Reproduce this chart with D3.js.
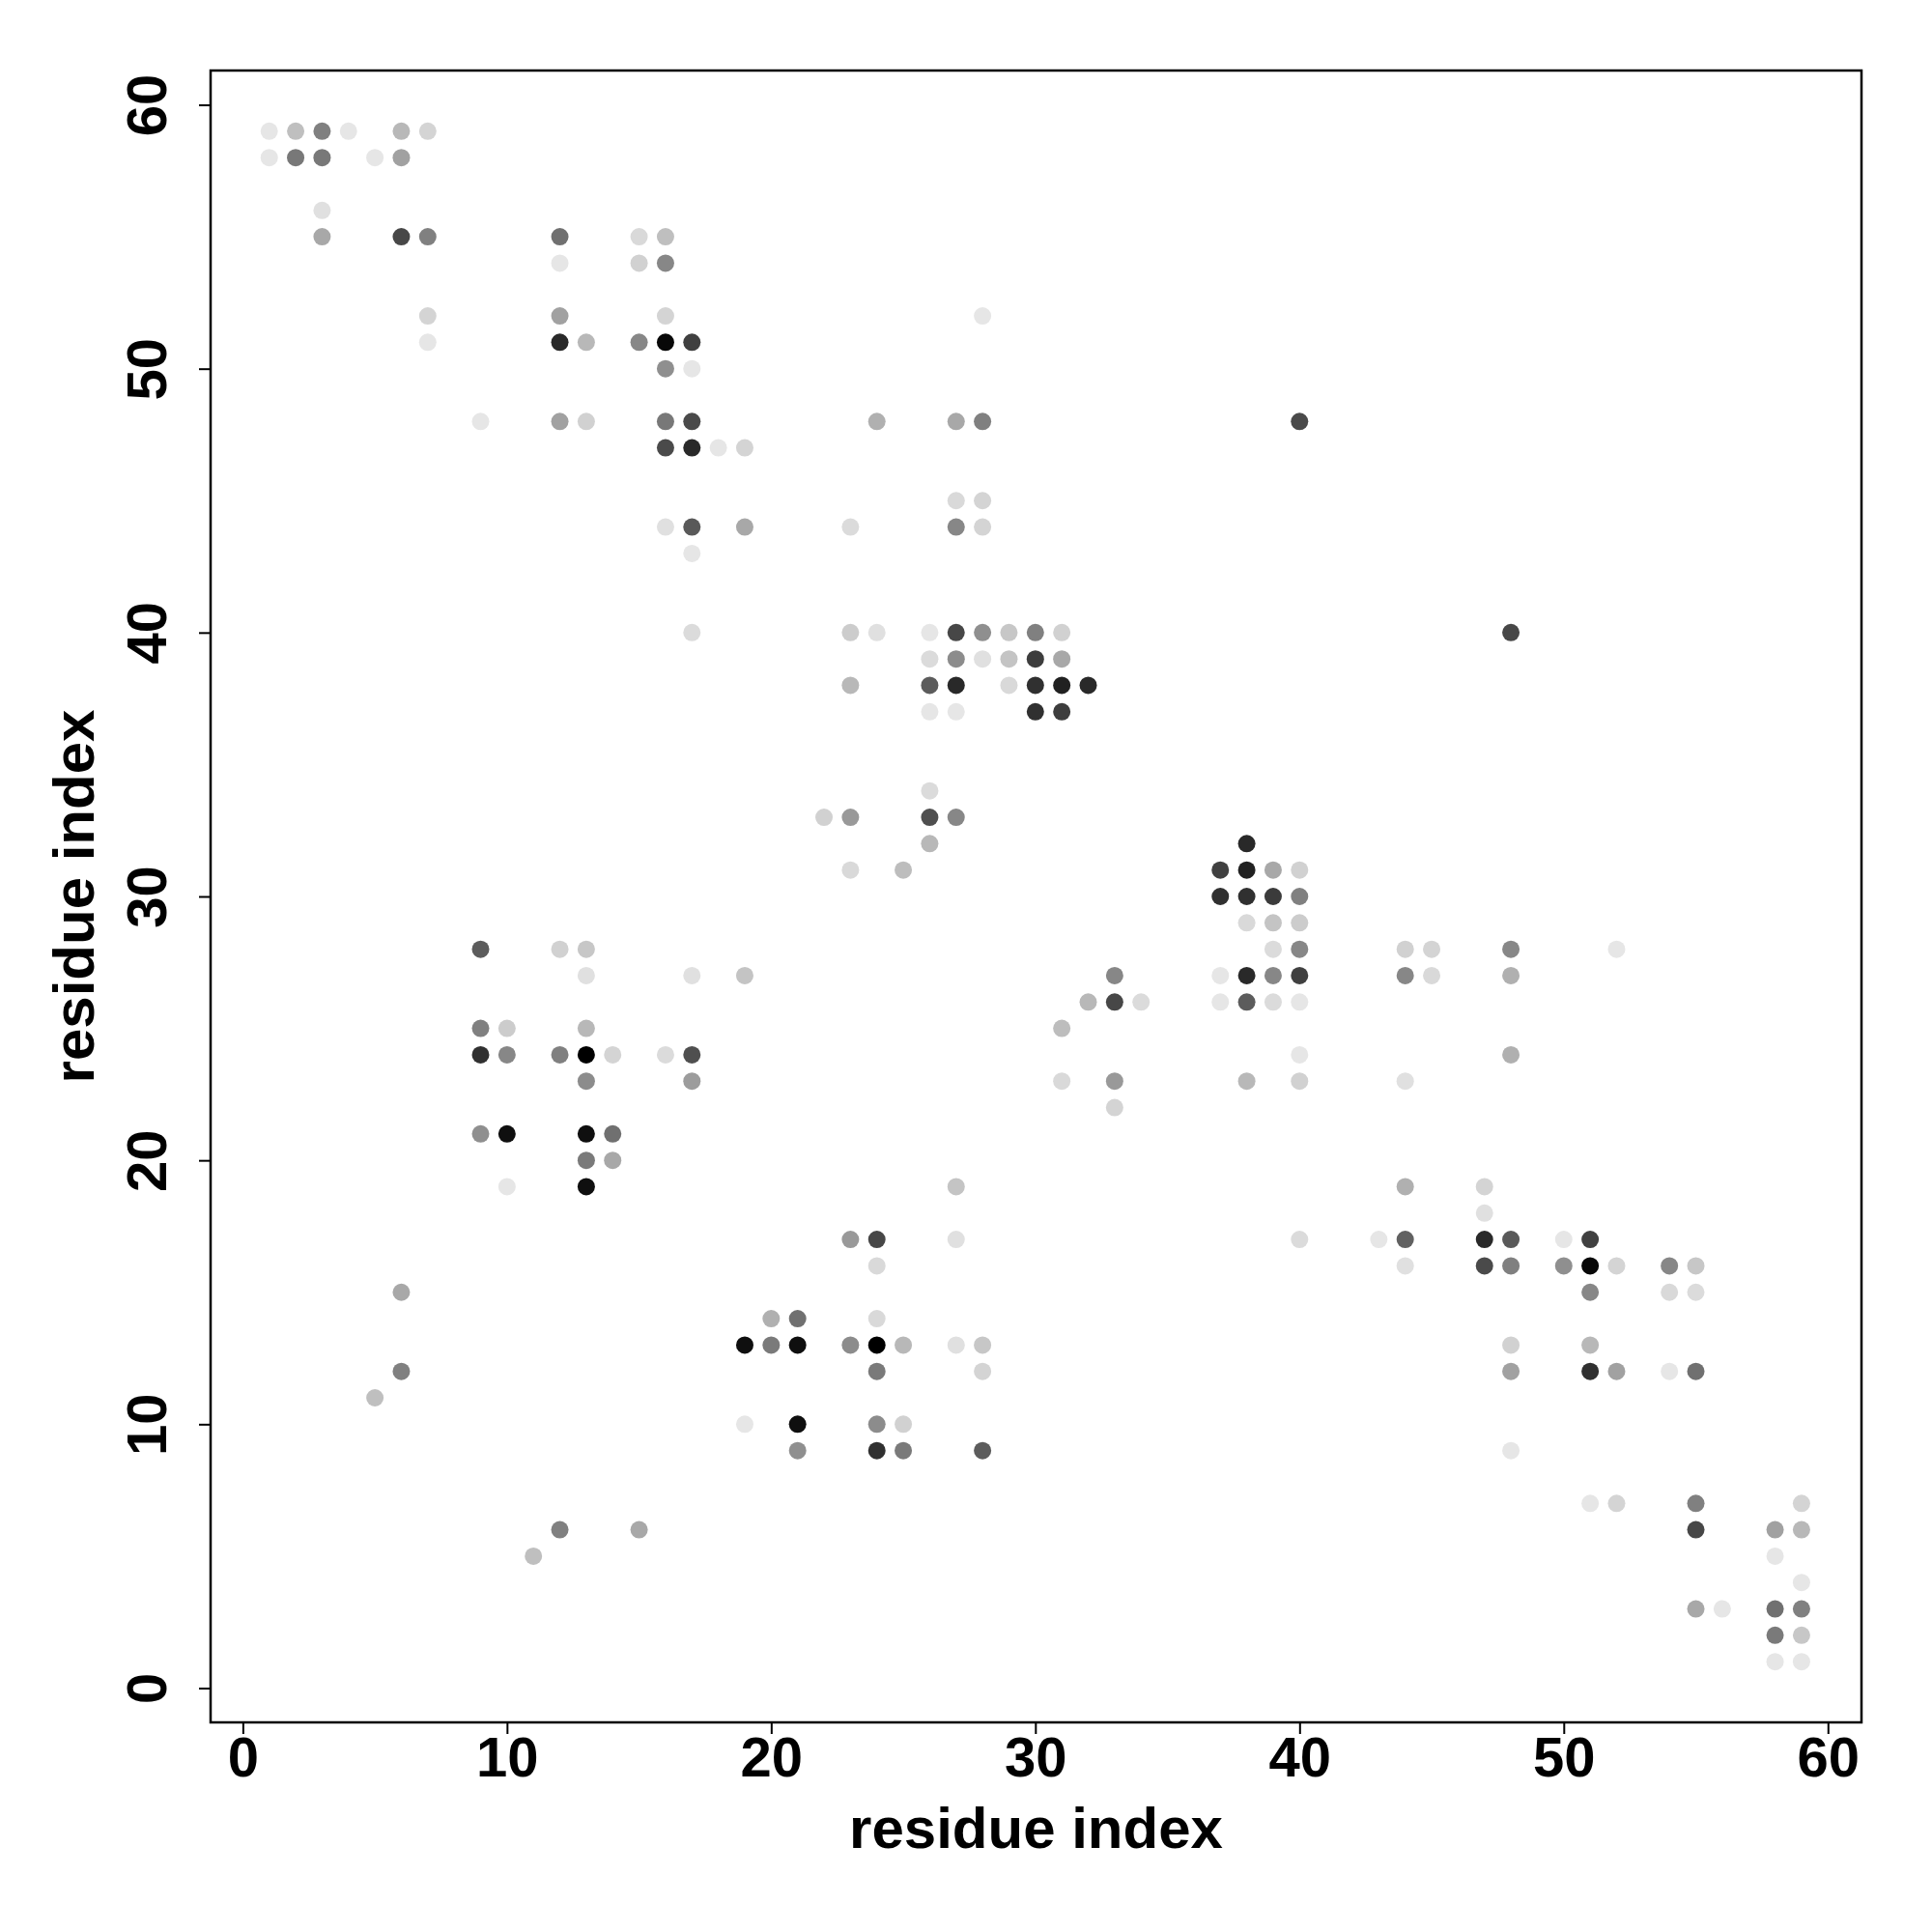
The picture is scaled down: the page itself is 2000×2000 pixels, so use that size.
<!DOCTYPE html>
<html><head><meta charset="utf-8">
<script src="https://cdn.jsdelivr.net/npm/d3@7"></script>
<style>body{margin:0;background:#fff}</style>
</head><body>
<svg id="chart" width="2000" height="2000"></svg>
<script>
// contact list: residue i (x), residue j (y), contact probability (darkness)
const resI = [
  1,2,3,4,6,7,            // j=59
  1,2,3,5,6,              // 58
  3,                      // 56
  3,6,7,12,15,16,         // 55
  12,15,16,               // 54
  7,12,16,28,             // 52
  7,12,13,15,16,17,       // 51
  16,17,                  // 50
  9,12,13,16,17,24,27,28,40, // 48
  16,17,18,19,            // 47
  27,28,                  // 45
  16,17,19,23,27,28,      // 44
  17,                     // 43
  17,23,24,26,27,28,29,30,31,48, // 40
  26,27,28,29,30,31,      // 39
  23,26,27,29,30,31,32,   // 38
  26,27,30,31,            // 37
  26,                     // 34
  22,23,26,27,            // 33
  26,38,                  // 32
  23,25,37,38,39,40,      // 31
  37,38,39,40,            // 30
  38,39,40,               // 29
  9,12,13,39,40,44,45,48,52, // 28
  13,17,19,33,37,38,39,40,44,45,48, // 27
  32,33,34,37,38,39,40,   // 26
  9,10,13,31,             // 25
  9,10,12,13,14,16,17,40,48, // 24
  13,17,31,33,38,40,44,   // 23
  33,                     // 22
  9,10,13,14,             // 21
  13,14,                  // 20
  10,13,27,44,47,         // 19
  47,                     // 18
  23,24,27,40,43,44,47,48,50,51, // 17
  24,44,47,48,50,51,52,54,55,    // 16
  6,51,54,55,             // 15
  20,21,24,               // 14
  19,20,21,23,24,25,27,28,48,51, // 13
  6,24,28,48,51,52,54,55, // 12
  5,                      // 11
  19,21,24,25,            // 10
  21,24,25,28,48,         // 9
  51,52,55,59,            // 7
  12,15,55,58,59,         // 6
  11,58,                  // 5
  59,                     // 4
  55,56,58,59,            // 3
  58,59,                  // 2
  58,59                   // 1
];
const resJ = [
  59,59,59,59,59,59,
  58,58,58,58,58,
  56,
  55,55,55,55,55,55,
  54,54,54,
  52,52,52,52,
  51,51,51,51,51,51,
  50,50,
  48,48,48,48,48,48,48,48,48,
  47,47,47,47,
  45,45,
  44,44,44,44,44,44,
  43,
  40,40,40,40,40,40,40,40,40,40,
  39,39,39,39,39,39,
  38,38,38,38,38,38,38,
  37,37,37,37,
  34,
  33,33,33,33,
  32,32,
  31,31,31,31,31,31,
  30,30,30,30,
  29,29,29,
  28,28,28,28,28,28,28,28,28,
  27,27,27,27,27,27,27,27,27,27,27,
  26,26,26,26,26,26,26,
  25,25,25,25,
  24,24,24,24,24,24,24,24,24,
  23,23,23,23,23,23,23,
  22,
  21,21,21,21,
  20,20,
  19,19,19,19,19,
  18,
  17,17,17,17,17,17,17,17,17,17,
  16,16,16,16,16,16,16,16,16,
  15,15,15,15,
  14,14,14,
  13,13,13,13,13,13,13,13,13,13,
  12,12,12,12,12,12,12,12,
  11,
  10,10,10,10,
  9,9,9,9,9,
  7,7,7,7,
  6,6,6,6,6,
  5,5,
  4,
  3,3,3,3,
  2,2,
  1,1
];
const prob = [
  .10,.25,.50,.10,.28,.17,
  .10,.53,.53,.10,.37,
  .12,
  .34,.72,.50,.56,.15,.25,
  .10,.18,.47,
  .17,.37,.17,.10,
  .10,.84,.28,.47,.97,.75,
  .44,.10,
  .10,.37,.18,.53,.71,.31,.34,.50,.71,
  .71,.84,.10,.17,
  .15,.17,
  .12,.65,.34,.14,.47,.17,
  .10,
  .14,.20,.12,.10,.72,.44,.22,.50,.18,.72,
  .14,.45,.12,.23,.76,.34,
  .28,.64,.84,.15,.81,.87,.84,
  .10,.10,.81,.76,
  .14,
  .18,.40,.69,.47,
  .28,.84,
  .15,.26,.75,.87,.34,.18,
  .81,.81,.77,.50,
  .15,.23,.20,
  .64,.18,.22,.14,.47,.18,.17,.47,.10,
  .12,.12,.23,.47,.10,.84,.47,.75,.47,.15,.31,
  .28,.72,.14,.10,.64,.14,.10,
  .50,.20,.28,.26,
  .81,.47,.50,1.0,.17,.14,.69,.10,.31,
  .45,.39,.15,.40,.28,.18,.12,
  .17,
  .44,.94,.94,.56,
  .52,.34,
  .10,.94,.23,.31,.17,
  .12,
  .40,.72,.12,.14,.10,.62,.84,.65,.10,.75,
  .15,.12,.71,.50,.44,.97,.17,.47,.22,
  .34,.47,.15,.14,
  .31,.56,.15,
  .94,.52,.94,.45,1.0,.28,.12,.22,.18,.28,
  .50,.52,.17,.37,.81,.37,.10,.56,
  .25,
  .10,.94,.45,.18,
  .44,.81,.52,.64,.10,
  .10,.17,.50,.17,
  .50,.34,.72,.37,.28,
  .25,.10,
  .10,
  .34,.10,.56,.50,
  .52,.22,
  .10,.10
];
const xTicks = [0,10,20,30,40,50,60];
const yTicks = [0,10,20,30,40,50,60];
const xTitle = "residue index";
const yTitle = "residue index";

const svg = d3.select("#chart");
svg.append("rect").attr("width",2000).attr("height",2000).attr("fill","#fff");
const L = 218, R = 1927, T = 73, B = 1783;
const x = d3.scaleLinear().domain([-1.22, 61.27]).range([L, R]);
const y = d3.scaleLinear().domain([-1.3, 61.3]).range([B, T]);
const grey = d3.scaleLinear().domain([0, 1]).range(["#ffffff", "#000000"]);

const data = resI.map((d, k) => ({i: d, j: resJ[k], p: prob[k]}));

svg.append("g").selectAll("circle").data(data).join("circle")
  .attr("cx", d => x(d.i)).attr("cy", d => y(d.j)).attr("r", 9)
  .attr("fill", d => grey(d.p));

const font = "'Liberation Sans', Arial, Helvetica, sans-serif";

const gx = svg.append("g").attr("transform", `translate(0,${B})`)
  .call(d3.axisBottom(x).tickValues(xTicks).tickSize(12).tickPadding(3).tickSizeOuter(0));
gx.select(".domain").remove();
gx.selectAll("line").attr("stroke", "#000").attr("stroke-width", 2);
gx.selectAll("text").attr("font-family", font).attr("font-size", 58).attr("font-weight", "bold").attr("fill", "#000");

const gy = svg.append("g").attr("transform", `translate(${L},0)`)
  .call(d3.axisLeft(y).tickValues(yTicks).tickSize(12).tickSizeOuter(0));
gy.select(".domain").remove();
gy.selectAll("line").attr("stroke", "#000").attr("stroke-width", 2);
gy.selectAll("text").attr("font-family", font).attr("font-size", 58).attr("font-weight", "bold").attr("fill", "#000")
  .attr("x", 0).attr("dy", 0).attr("text-anchor", "middle")
  .attr("transform", "translate(-46,0) rotate(-90)");

svg.append("rect").attr("x", L).attr("y", T).attr("width", R - L).attr("height", B - T)
  .attr("fill", "none").attr("stroke", "#000").attr("stroke-width", 2.5);

svg.append("text").attr("x", (L + R) / 2).attr("y", 1913).attr("text-anchor", "middle")
  .attr("font-family", font).attr("font-size", 60).attr("font-weight", "bold").text(xTitle);
svg.append("text").attr("transform", `translate(97,${(T + B) / 2}) rotate(-90)`).attr("text-anchor", "middle")
  .attr("font-family", font).attr("font-size", 60).attr("font-weight", "bold").text(yTitle);
</script>
</body></html>
